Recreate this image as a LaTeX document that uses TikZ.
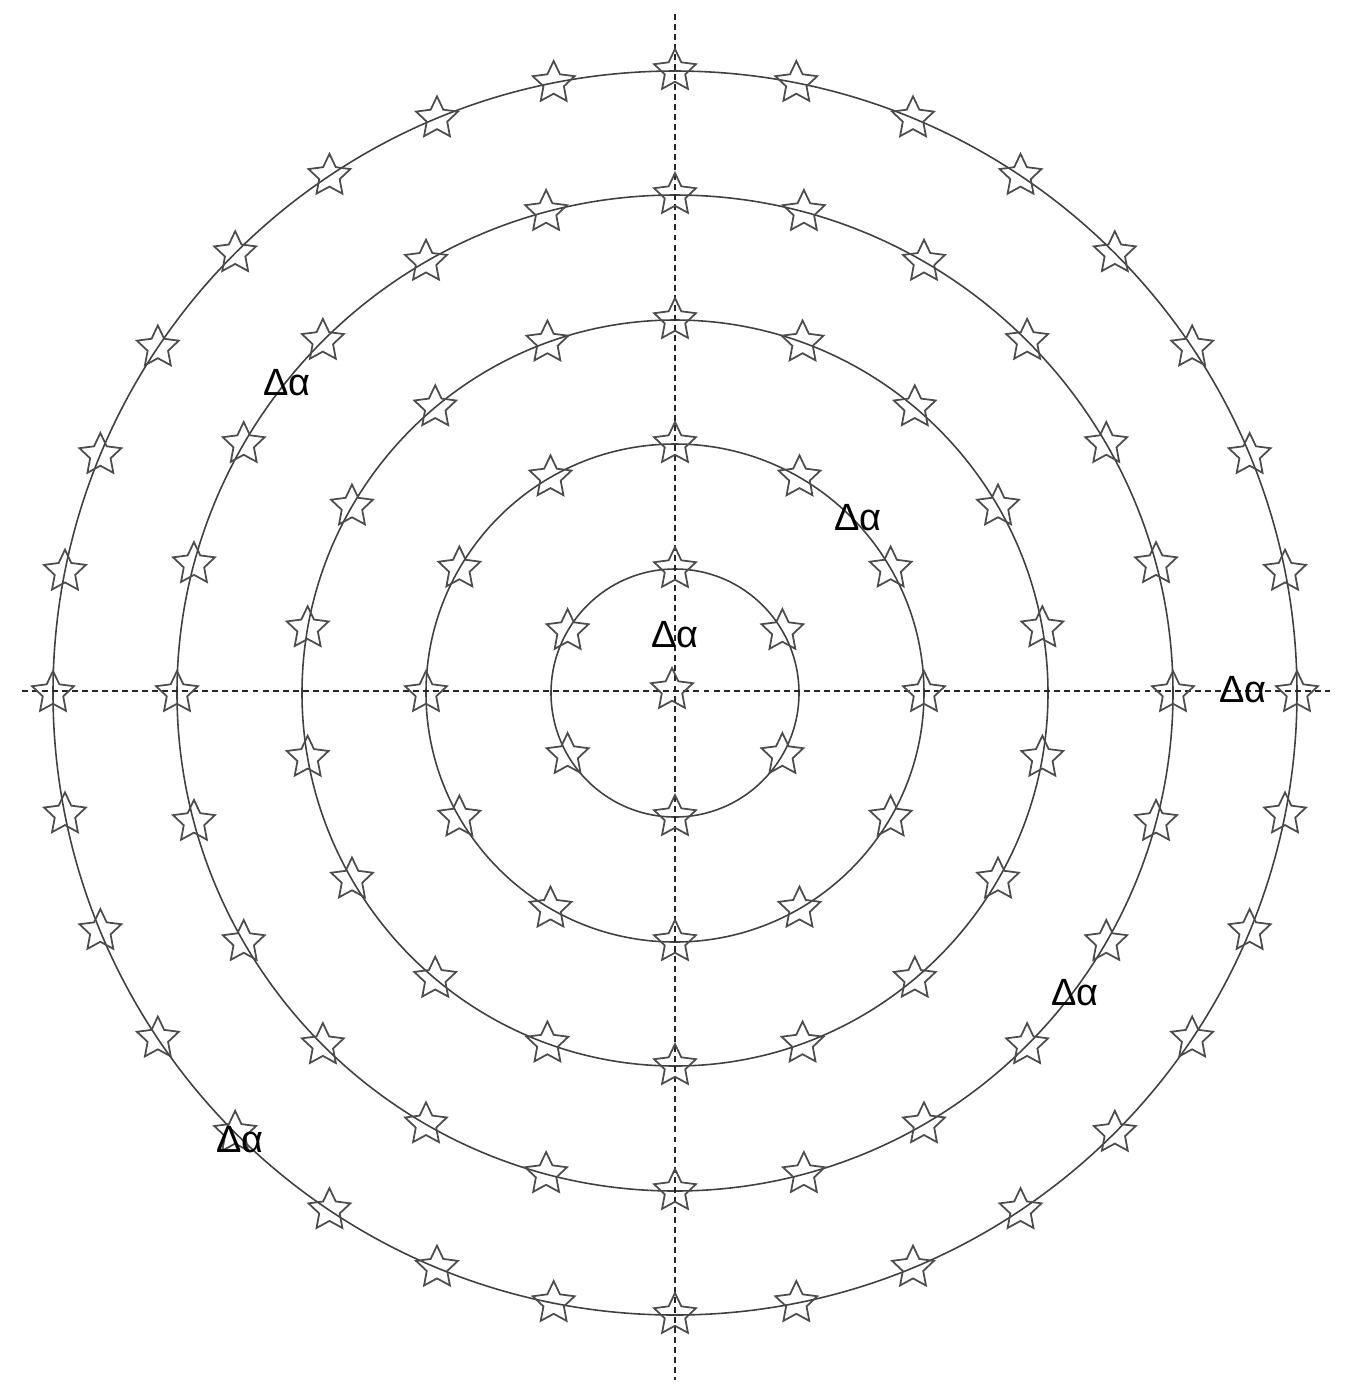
\documentclass[tikz,border=0pt]{standalone}
\usepackage{fontspec}
\setmainfont{Liberation Sans}
\usetikzlibrary{shapes.geometric}
\begin{document}
\begin{tikzpicture}[x=0.01cm,y=-0.01cm,
  ring/.style={draw=black!75,line width=0.45pt},
  axis/.style={draw=black!85,line width=0.8pt,dash pattern=on 1.7pt off 1.15pt},
  starmark/.style={star,star points=5,star point ratio=2.05,minimum size=0.44cm,inner sep=0pt,draw=black!70,line width=0.5pt},
  lbl/.style={font=\fontsize{10.8pt}{12pt}\selectfont,inner sep=0pt}]
\useasboundingbox (0,0) rectangle (1350,1393);
\coordinate (O) at (675,693);
\coordinate (vt) at (675,14);
\coordinate (vb) at (675,1380);
\coordinate (hl) at (22,691);
\coordinate (hr) at (1330,691);
\foreach \r in {124,249,373,498,622}{
  \draw[ring] (O) circle[radius=\r];
}
\draw[axis] (vt) -- (vb);
\draw[axis] (hl) -- (hr);
\node[starmark] (c0) at (672,690) {};
% ring 1: 6 stars, 60 deg, starting at 30
\foreach \i in {0,...,5}{
  \pgfmathsetmacro\a{30+60*\i}
  \node[starmark] (s1-\i) at ({675+124*cos(\a)},{693-124*sin(\a)}) {};
}
% ring 2: 12 stars, 30 deg
\foreach \i in {0,...,11}{
  \pgfmathsetmacro\a{30*\i}
  \node[starmark] (s2-\i) at ({675+249*cos(\a)},{693-249*sin(\a)}) {};
}
% ring 3: 18 stars, 20 deg starting at 10
\foreach \i in {0,...,17}{
  \pgfmathsetmacro\a{10+20*\i}
  \node[starmark] (s3-\i) at ({675+373*cos(\a)},{693-373*sin(\a)}) {};
}
% ring 4: 24 stars, 15 deg
\foreach \i in {0,...,23}{
  \pgfmathsetmacro\a{15*\i}
  \node[starmark] (s4-\i) at ({675+498*cos(\a)},{693-498*sin(\a)}) {};
}
% ring 5: 32 stars, 11.25 deg
\foreach \i in {0,...,31}{
  \pgfmathsetmacro\a{11.25*\i}
  \node[starmark] (s5-\i) at ({675+622*cos(\a)},{693-622*sin(\a)}) {};
}
\node[lbl] (l1) at (675,635) {Δα};
\node[lbl] (l2) at (287,383) {Δα};
\node[lbl] (l3) at (858,518) {Δα};
\node[lbl] (l4) at (1243,690) {Δα};
\node[lbl] (l5) at (1075,993) {Δα};
\node[lbl] (l6) at (240,1140) {Δα};
\end{tikzpicture}
\end{document}
